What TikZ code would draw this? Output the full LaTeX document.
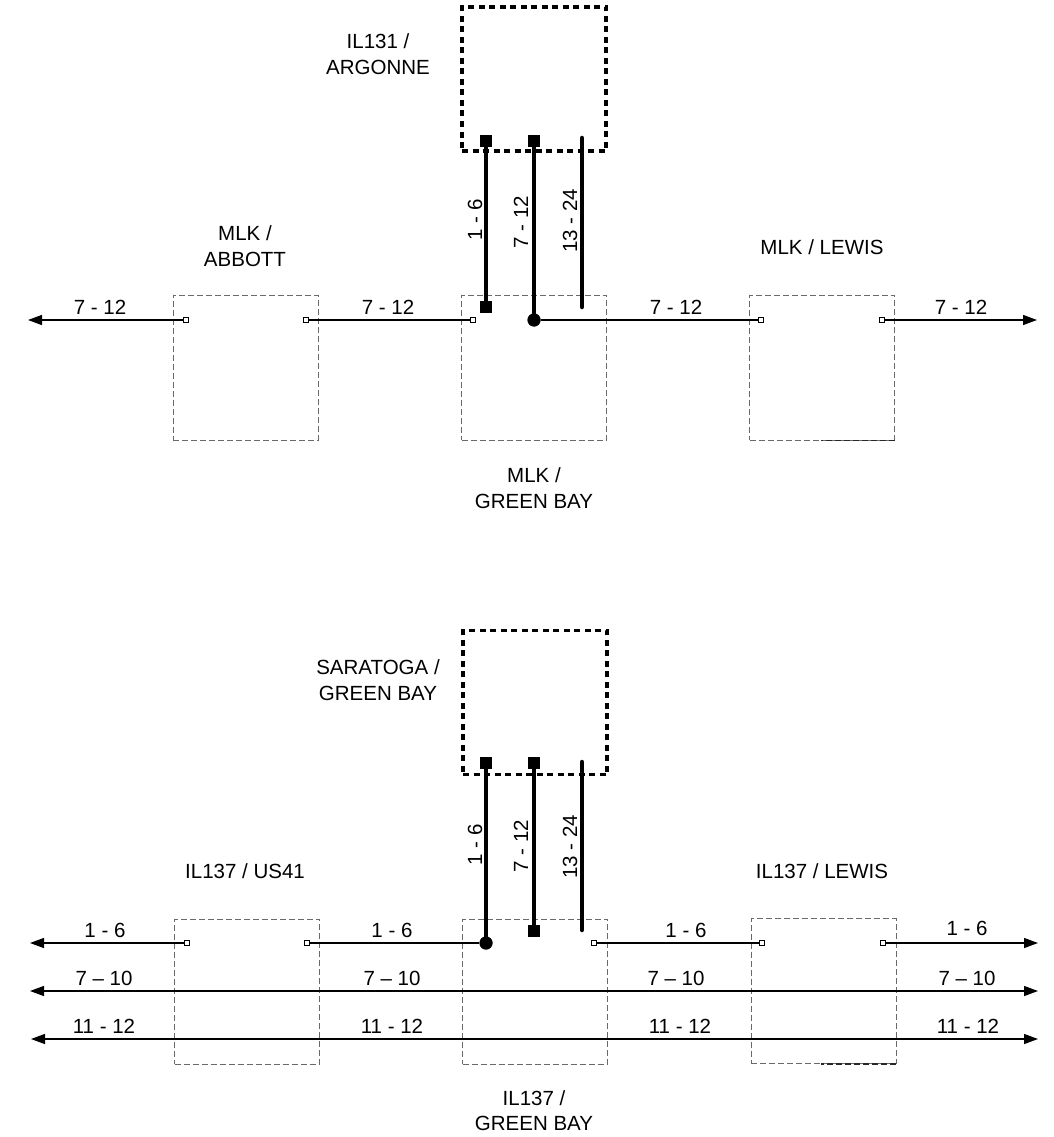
\documentclass[tikz,border=0pt]{standalone}
\usepackage{fontspec}
\setmainfont{Liberation Sans}
\usetikzlibrary{arrows.meta}
\begin{document}
\begin{tikzpicture}[x=1pt,y=-1pt,
  gbox/.style={draw={rgb,255:red,105;green,105;blue,105}, line width=0.9pt, dash pattern=on 6pt off 3pt, minimum width=145pt, minimum height=145pt, inner sep=0pt},
  gdark/.style={draw={rgb,255:red,40;green,40;blue,40}, line width=1.1pt, dash pattern=on 6pt off 3pt},
  dbox/.style={draw=black, line width=3.8pt, dash pattern=on 6pt off 4.5pt, minimum width=144pt, minimum height=144pt, inner sep=0pt},
  wire/.style={line width=1.3pt},
  fwire/.style={line width=4.5pt},
  endl/.style={-{Triangle[length=14pt,width=10pt]}},
  endb/.style={{Triangle[length=14pt,width=10pt]}-{Triangle[length=14pt,width=10pt]}},
  sqt/.style={fill=black, minimum size=12pt, inner sep=0pt},
  dott/.style={circle, fill=black, minimum size=13pt, inner sep=0pt},
  osq/.style={draw, fill=white, line width=0.6pt, minimum size=5pt, inner sep=0pt},
  lbl/.style={font=\fontsize{20.5}{25.5}\selectfont, align=center, inner sep=0pt},
  wl/.style={font=\fontsize{20.5}{24}\selectfont, anchor=base, inner sep=0pt},
  vl/.style={font=\fontsize{20.5}{24}\selectfont, rotate=90, inner sep=0pt}
]
\useasboundingbox (0,0) rectangle (1053,1137);

% ================= TOP =================
\node[dbox] (argbox) at (534,79) {};
\node[gbox] (abbbox) at (245.5,367.5) {};
\node[gbox] (gb1box) at (534,367.5) {};
\node[gbox] (lewbox) at (822,367.5) {};
\draw[gdark] (lewbox.south east) -- +(-74,0);

\node[lbl] (targ) at (378,54) {IL131 /\\ARGONNE};
\node[lbl] (tabb) at (245,246) {MLK /\\ABBOTT};
\node[lbl] (tlew) at (822,247) {MLK / LEWIS};
\node[lbl] (tgb1) at (534,488) {MLK /\\GREEN BAY};

% terminals
\node[sqt] (ta1) at (486,141) {};
\node[sqt] (ta2) at (534,141) {};
\coordinate (ta3) at (582,138);
\node[sqt] (tb1) at (486,307) {};
\node[dott] (tb2) at (534,320) {};
\coordinate (tb3) at (582,307);

\node[osq] (o1) at (186,320) {};
\node[osq] (o2) at (306,320) {};
\node[osq] (o3) at (473,320) {};
\node[osq] (o4) at (761,320) {};
\node[osq] (o5) at (882,320) {};
\coordinate (ltip1) at (28,320);
\coordinate (rtip1) at (1037,320);

\draw[fwire] (ta1.center) -- (tb1.center);
\draw[fwire] (ta2.center) -- (tb2.center);
\draw[fwire, line cap=round] (ta3) -- (tb3);
\node[sqt] at (ta1) {};
\node[sqt] at (ta2) {};
\node[sqt] at (tb1) {};
\node[dott] at (tb2) {};

\draw[wire, endl] (o1) -- (ltip1);
\draw[wire] (o2) -- (o3);
\draw[wire] (tb2) -- (o4);
\draw[wire, endl] (o5) -- (rtip1);

\node[wl] (w1) at (100,314) {7 - 12};
\node[wl] (w2) at (388,314) {7 - 12};
\node[wl] (w3) at (676,314) {7 - 12};
\node[wl] (w4) at (961,314) {7 - 12};

\node[vl] (v1) at (475,220) {1 - 6};
\node[vl] (v2) at (521,222) {7 - 12};
\node[vl] (v3) at (570,221) {13 - 24};

% ================= BOTTOM =================
\node[dbox] (sarbox) at (535,702.5) {};
\node[gbox] (usbox) at (247,991.5) {};
\node[gbox] (gb2box) at (535,991.5) {};
\node[gbox] (lw2box) at (823.5,991) {};
\draw[gdark] (lw2box.south east) -- +(-75,0);

\node[lbl] (tsar) at (378,680) {SARATOGA /\\GREEN BAY};
\node[lbl] (tus) at (245,871) {IL137 / US41};
\node[lbl] (tlw2) at (822,871) {IL137 / LEWIS};
\node[lbl] (tgb2) at (534,1110.5) {IL137 /\\GREEN BAY};

\node[sqt] (sa1) at (486,763) {};
\node[sqt] (sa2) at (534,763) {};
\coordinate (sa3) at (582,762);
\node[dott] (sb1) at (486,943) {};
\node[sqt] (sb2) at (534,931) {};
\coordinate (sb3) at (582,930);

\node[osq] (p1) at (187,943) {};
\node[osq] (p2) at (307,943) {};
\node[osq] (p3) at (594,943) {};
\node[osq] (p4) at (762,943) {};
\node[osq] (p5) at (883,943) {};
\coordinate (ltip2) at (30,943);
\coordinate (rtip2) at (1038,943);
\coordinate (ltip3) at (30,991);
\coordinate (rtip3) at (1038,991);
\coordinate (ltip4) at (31,1039);
\coordinate (rtip4) at (1038,1039);

\draw[fwire] (sa1.center) -- (sb1.center);
\draw[fwire] (sa2.center) -- (sb2.center);
\draw[fwire, line cap=round] (sa3) -- (sb3);
\node[sqt] at (sa1) {};
\node[sqt] at (sa2) {};
\node[dott] at (sb1) {};
\node[sqt] at (sb2) {};

\draw[wire, endl] (p1) -- (ltip2);
\draw[wire] (p2) -- (sb1);
\draw[wire] (p3) -- (p4);
\draw[wire, endl] (p5) -- (rtip2);
\draw[wire, endb] (ltip3) -- (rtip3);
\draw[wire, endb] (ltip4) -- (rtip4);

\node[wl] (x1) at (105,937) {1 - 6};
\node[wl] (x2) at (392,937) {1 - 6};
\node[wl] (x3) at (686,937) {1 - 6};
\node[wl] (x4) at (967,935) {1 - 6};
\node[wl] (y1) at (104,985) {7 -- 10};
\node[wl] (y2) at (392,985) {7 -- 10};
\node[wl] (y3) at (676,985) {7 -- 10};
\node[wl] (y4) at (967,985) {7 -- 10};
\node[wl] (z1) at (104,1033) {11 - 12};
\node[wl] (z2) at (392,1033) {11 - 12};
\node[wl] (z3) at (680,1033) {11 - 12};
\node[wl] (z4) at (968,1033) {11 - 12};

\node[vl] (u1) at (475,845) {1 - 6};
\node[vl] (u2) at (521,846) {7 - 12};
\node[vl] (u3) at (570,847) {13 - 24};
\end{tikzpicture}
\end{document}
